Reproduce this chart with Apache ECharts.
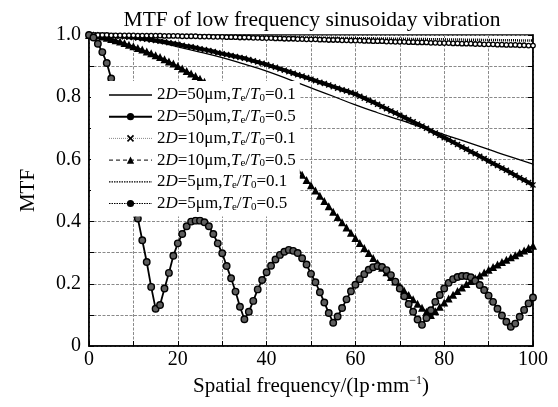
<!DOCTYPE html>
<html>
<head>
<meta charset="utf-8">
<script src="https://cdn.jsdelivr.net/npm/echarts@6/dist/echarts.min.js"></script>
<style>html,body{margin:0;padding:0;background:#fff;}#c{width:558px;height:407px;}</style>
</head>
<body>
<div id="c"></div>
<script>
// sample positions (lp/mm)
var freq1 = [0,1,2,3,4,5,6,7,8,9,10,11,12,13,14,15,16,17,18,19,20,21,22,23,24,25,26,27,28,29,30,31,32,33,34,35,36,37,38,39,40,41,42,43,44,45,46,47,48,49,50,51,52,53,54,55,56,57,58,59,60,61,62,63,64,65,66,67,68,69,70,71,72,73,74,75,76,77,78,79,80,81,82,83,84,85,86,87,88,89,90,91,92,93,94,95,96,97,98,99,100];
var freq5 = [0,5,10,15,20,25,30,35,40,45,50,55,60,65,70,75,80,85,90,95,100];

// 2D=50um, Te/T0=0.1 (thin solid)
var mtf50_01 = [1.000,0.997,0.990,0.978,0.962,0.945,0.927,0.906,0.884,0.857,0.830,0.803,0.775,0.750,0.727,0.703,0.680,0.656,0.632,0.608,0.585];

// 2D=50um, Te/T0=0.5 (oscillating, solid with markers)
var mtf50_05 = [1.000,0.992,0.972,0.945,0.910,0.860,0.800,0.730,0.650,0.560,0.475,0.410,0.340,0.270,0.190,0.120,0.132,0.185,0.235,0.290,0.330,0.360,0.385,0.400,0.403,0.403,0.398,0.385,0.360,0.330,0.298,0.257,0.218,0.175,0.126,0.086,0.110,0.145,0.182,0.212,0.237,0.258,0.278,0.293,0.303,0.309,0.306,0.299,0.282,0.262,0.232,0.205,0.173,0.140,0.106,0.075,0.095,0.122,0.150,0.176,0.197,0.215,0.231,0.245,0.253,0.257,0.254,0.244,0.228,0.207,0.185,0.160,0.135,0.110,0.085,0.068,0.090,0.115,0.142,0.164,0.185,0.203,0.215,0.222,0.225,0.225,0.221,0.210,0.196,0.180,0.162,0.142,0.120,0.098,0.078,0.062,0.072,0.094,0.116,0.137,0.156];

// 2D=10um, Te/T0=0.1 (x markers, heavy)
var mtf10_01 = [1.000,1.000,0.999,0.999,0.998,0.998,0.997,0.996,0.994,0.993,0.992,0.990,0.988,0.986,0.984,0.982,0.980,0.978,0.975,0.973,0.970,0.967,0.964,0.962,0.959,0.956,0.953,0.950,0.947,0.943,0.940,0.937,0.934,0.931,0.928,0.925,0.921,0.917,0.913,0.909,0.905,0.900,0.896,0.891,0.887,0.882,0.877,0.872,0.868,0.863,0.858,0.853,0.848,0.844,0.839,0.834,0.829,0.824,0.820,0.815,0.810,0.803,0.797,0.790,0.784,0.777,0.770,0.763,0.756,0.749,0.742,0.735,0.728,0.721,0.714,0.707,0.700,0.692,0.685,0.677,0.670,0.663,0.655,0.648,0.640,0.633,0.625,0.618,0.610,0.603,0.595,0.587,0.580,0.572,0.565,0.557,0.549,0.541,0.534,0.526,0.518];

// 2D=10um, Te/T0=0.5 (triangles)
var mtf10_05 = [1.000,0.999,0.998,0.995,0.991,0.987,0.983,0.979,0.974,0.969,0.964,0.958,0.953,0.947,0.941,0.935,0.929,0.922,0.915,0.908,0.900,0.892,0.884,0.876,0.868,0.859,0.850,0.840,0.830,0.819,0.808,0.796,0.784,0.772,0.759,0.746,0.733,0.719,0.705,0.691,0.676,0.661,0.646,0.631,0.615,0.599,0.583,0.567,0.551,0.534,0.517,0.500,0.483,0.466,0.449,0.432,0.415,0.398,0.381,0.364,0.347,0.331,0.315,0.299,0.283,0.267,0.252,0.237,0.222,0.207,0.192,0.178,0.164,0.150,0.136,0.123,0.110,0.100,0.112,0.126,0.140,0.153,0.165,0.177,0.188,0.199,0.209,0.218,0.227,0.236,0.245,0.254,0.262,0.270,0.277,0.285,0.292,0.300,0.307,0.315,0.322];

// 2D=5um, Te/T0=0.1 (dotted)
var mtf5_01 = [1.000,1.000,0.999,0.999,0.998,0.997,0.996,0.995,0.994,0.993,0.992,0.991,0.990,0.989,0.988,0.987,0.986,0.985,0.984,0.983,0.982];

// 2D=5um, Te/T0=0.5 (dotted with dots)
var mtf5_05 = [1.000,1.000,1.000,1.000,1.000,0.999,0.999,0.999,0.999,0.999,0.999,0.998,0.998,0.998,0.998,0.998,0.998,0.997,0.997,0.997,0.997,0.996,0.996,0.996,0.996,0.995,0.995,0.995,0.994,0.994,0.994,0.993,0.993,0.993,0.992,0.992,0.992,0.991,0.991,0.990,0.990,0.990,0.989,0.989,0.988,0.988,0.988,0.987,0.987,0.986,0.986,0.986,0.985,0.985,0.984,0.984,0.984,0.983,0.983,0.982,0.982,0.982,0.981,0.981,0.980,0.980,0.980,0.979,0.979,0.978,0.978,0.978,0.977,0.977,0.976,0.976,0.976,0.975,0.975,0.974,0.974,0.974,0.973,0.973,0.972,0.972,0.972,0.971,0.971,0.970,0.970,0.970,0.969,0.969,0.968,0.968,0.968,0.967,0.967,0.966,0.966];

var seriesNames = ['2D=50μm,Te/T0=0.1','2D=50μm,Te/T0=0.5','2D=10μm,Te/T0=0.1','2D=10μm,Te/T0=0.5','2D=5μm,Te/T0=0.1','2D=5μm,Te/T0=0.5'];
var legendAmp = ['50','50','10','10','5','5'];
var legendRatio = ['0.1','0.5','0.1','0.5','0.1','0.5'];
var xTickLabels = ['0','20','40','60','80','100'];
var yTickLabels = ['0','0.2','0.4','0.6','0.8','1.0'];

function pairs(xs, ys){ return xs.map(function(x,i){ return [x, ys[i]]; }); }

var SERIF = 'Liberation Serif, Times New Roman, serif';
var crossPath = 'path://M0,1.6L1.6,0L5,3.4L8.4,0L10,1.6L6.6,5L10,8.4L8.4,10L5,6.6L1.6,10L0,8.4L3.4,5Z';

var legendOverrides = [
  {itemStyle: {opacity: 0}, lineStyle: {color: '#000', width: 1.3, type: 'solid'}},
  {itemStyle: {color: '#000', borderColor: '#000', borderWidth: 0}, lineStyle: {color: '#000', width: 2, type: 'solid'}},
  {itemStyle: {color: '#000'}, lineStyle: {color: '#888', width: 1, type: 'dotted'}},
  {itemStyle: {color: '#000'}, lineStyle: {color: '#000', width: 1, type: [4, 3]}},
  {itemStyle: {opacity: 0}, lineStyle: {color: '#000', width: 1.2, type: [1.5, 1]}},
  {itemStyle: {color: '#000', borderColor: '#000', borderWidth: 0}, lineStyle: {color: '#000', width: 1.2, type: [1.5, 1]}}
];

var chart = echarts.init(document.getElementById('c'), null, {renderer:'canvas'});
var option = {
  animation: false,
  backgroundColor: '#fff',
  title: {
    text: 'MTF of low frequency sinusoiday vibration',
    left: 307, top: 4, textAlign: 'center',
    textStyle: {fontFamily: SERIF, fontSize: 21.5, fontWeight: 'normal', color: '#000'}
  },
  grid: {left: 89, right: 25, top: 35, bottom: 61, show: true, borderColor: '#000', borderWidth: 1.5, backgroundColor: 'transparent'},
  legend: {
    orient: 'vertical', left: 91, top: 81, z: 20,
    backgroundColor: '#fff',
    padding: [5, 4, 4, 17],
    itemWidth: 43, itemHeight: 9, itemGap: 3.7,
    data: seriesNames.map(function(n, i){
      var o = {name: n};
      for (var k in legendOverrides[i]) o[k] = legendOverrides[i][k];
      return o;
    }),
    formatter: function(name){
      var i = seriesNames.indexOf(name);
      return '{n|2}{i|D}{n|=' + legendAmp[i] + 'μm,}{i|T}{s|e}{n|/}{i|T}{s|0}{n|=' + legendRatio[i] + '}';
    },
    textStyle: {
      fontFamily: SERIF, fontSize: 17, color: '#000', lineHeight: 18,
      rich: {
        n: {fontFamily: SERIF, fontSize: 17, color: '#000', lineHeight: 18},
        i: {fontFamily: SERIF, fontSize: 17, fontStyle: 'italic', color: '#000', lineHeight: 18},
        s: {fontFamily: SERIF, fontSize: 11, color: '#000', lineHeight: 11, verticalAlign: 'bottom'}
      }
    }
  },
  xAxis: [{
    type: 'value', min: 0, max: 100, interval: 10,
    name: '{n|Spatial frequency/(lp·mm}{s|−1}{n|)}',
    nameLocation: 'middle', nameGap: 27,
    nameTextStyle: {
      fontFamily: SERIF, fontSize: 21, color: '#000',
      rich: {
        n: {fontFamily: SERIF, fontSize: 21, color: '#000', lineHeight: 24},
        s: {fontFamily: SERIF, fontSize: 12, color: '#000', lineHeight: 12, verticalAlign: 'top'}
      }
    },
    axisLine: {show: true, lineStyle: {color: '#000', width: 1.5}},
    axisTick: {show: true, inside: true, length: 5, lineStyle: {color: '#000', width: 1}},
    axisLabel: {
      fontFamily: SERIF, fontSize: 20, color: '#000', margin: 4,
      formatter: function(v){ var k = Math.round(v); return (k % 20 === 0) ? xTickLabels[k/20] : ''; }
    },
    splitLine: {show: true, lineStyle: {color: '#8a8a8a', width: 1, type: [3, 1.5]}}
  }],
  yAxis: [{
    type: 'value', min: 0, max: 1, interval: 0.1,
    name: 'MTF', nameLocation: 'middle', nameGap: 50,
    nameTextStyle: {fontFamily: SERIF, fontSize: 21, color: '#000'},
    axisLine: {show: true, lineStyle: {color: '#000', width: 1.5}},
    axisTick: {show: true, inside: true, length: 5, lineStyle: {color: '#000', width: 1}},
    axisLabel: {
      fontFamily: SERIF, fontSize: 20, color: '#000', margin: 8,
      formatter: function(v){ var k = Math.round(v*10); return (k % 2 === 0) ? yTickLabels[k/2] : ''; }
    },
    splitLine: {show: true, lineStyle: {color: '#8a8a8a', width: 1, type: [3, 1.5]}}
  },{
    type: 'value', min: 0, max: 1, interval: 0.1, position: 'right',
    axisLine: {show: true, lineStyle: {color: '#000', width: 1.5}},
    axisTick: {show: true, inside: true, length: 5, lineStyle: {color: '#000', width: 1}},
    axisLabel: {show: false}, splitLine: {show: false}
  }],
  series: [
    {
      name: seriesNames[0], type: 'line', smooth: true, showSymbol: false, symbol: 'none',
      data: pairs(freq5, mtf50_01),
      lineStyle: {color: '#000', width: 1.3}, itemStyle: {color: '#000'}, z: 3
    },
    {
      name: seriesNames[1], type: 'line', symbol: 'circle', symbolSize: 6.5,
      data: pairs(freq1, mtf50_05),
      lineStyle: {color: '#000', width: 1.8},
      itemStyle: {color: '#5e5e5e', borderColor: '#000', borderWidth: 1.4}, z: 4
    },
    {
      name: seriesNames[2], type: 'line', symbol: crossPath, symbolSize: 6,
      data: pairs(freq1, mtf10_01),
      lineStyle: {color: '#000', width: 4},
      itemStyle: {color: '#000'}, z: 3
    },
    {
      name: seriesNames[3], type: 'line', symbol: 'triangle', symbolSize: 8,
      data: pairs(freq1, mtf10_05),
      lineStyle: {color: '#000', width: 1.5},
      itemStyle: {color: '#000'}, z: 3
    },
    {
      name: seriesNames[4], type: 'line', smooth: true, symbol: 'none', showSymbol: false,
      data: pairs(freq5, mtf5_01),
      lineStyle: {color: '#000', width: 2.5, type: [1, 1]}, itemStyle: {color: '#000'}, z: 3
    },
    {
      name: seriesNames[5], type: 'line', symbol: 'circle', symbolSize: 4.5,
      data: pairs(freq1, mtf5_05),
      lineStyle: {color: '#000', width: 1.2, type: 'dotted'},
      itemStyle: {color: '#fff', borderColor: '#000', borderWidth: 1.3}, z: 3
    }
  ]
};
chart.setOption(option);
</script>
</body>
</html>
